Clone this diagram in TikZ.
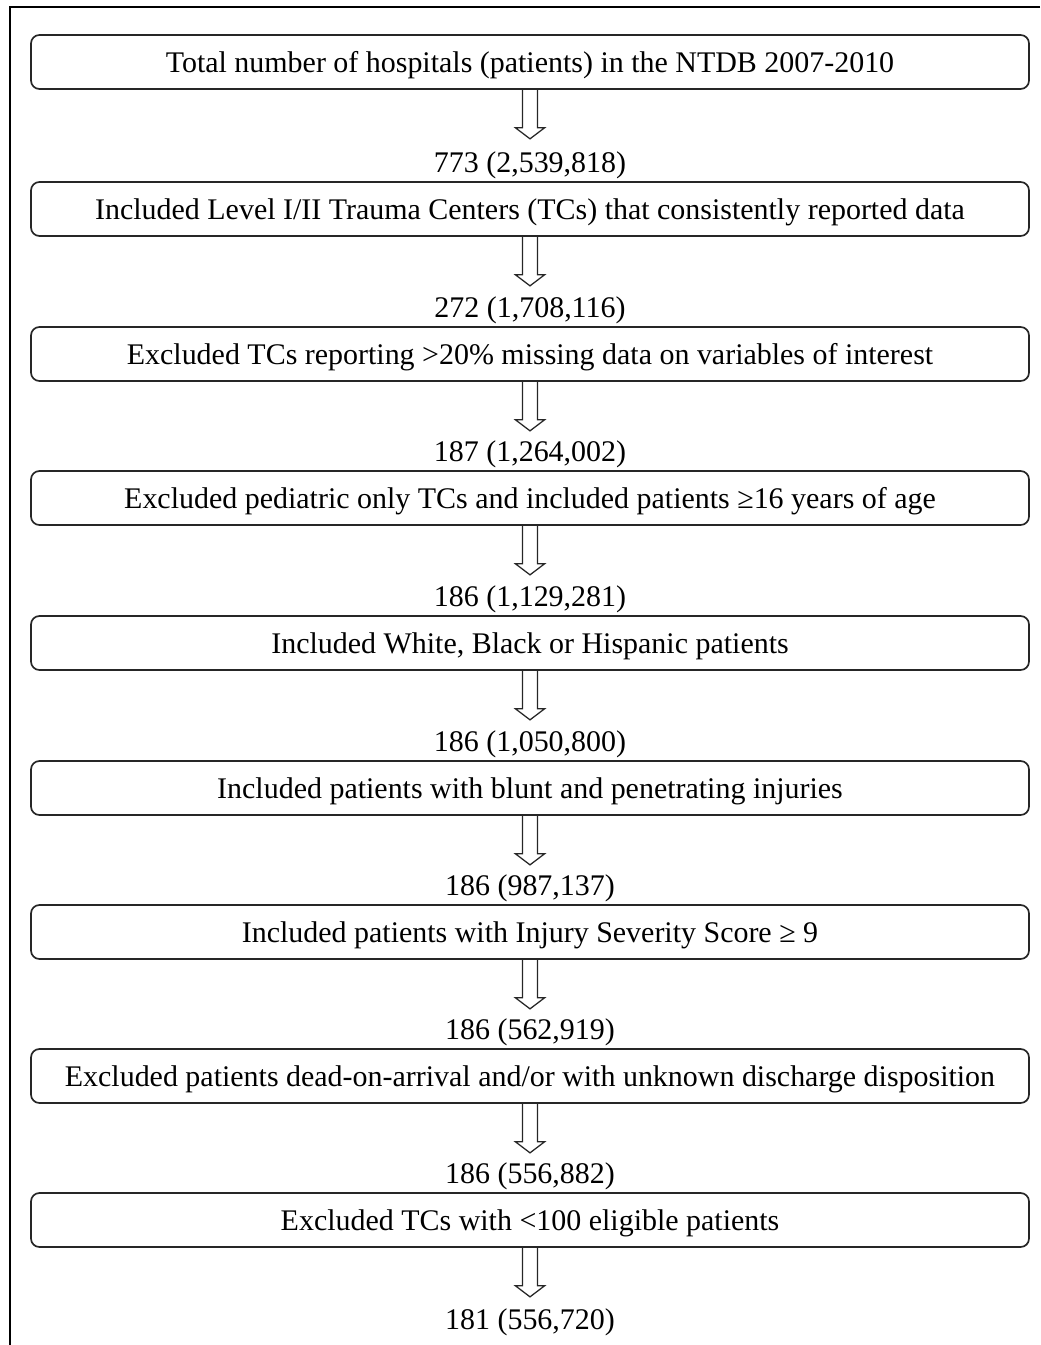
\documentclass[tikz,border=0pt]{standalone}
\usepackage{fontspec}
\setmainfont{Liberation Serif}
\usetikzlibrary{shapes,arrows,positioning,calc,arrows.meta}

\tikzset{
    flowarrow/.pic={
        \draw[draw=black!85, line width=0.9pt, line join=miter]
            (-7.5,0) -- (-7.5,38) -- (-14.5,38) -- (0,49) -- (14.5,38) -- (7.5,38) -- (7.5,0);
    }
}

\begin{document}
\begin{tikzpicture}[
    x=0.025cm, y=-0.025cm,
    stepbox/.style={rectangle, draw=black!85, line width=1.2pt, rounded corners=6pt,
        minimum width=998*0.025cm, minimum height=54*0.025cm, inner sep=0pt,
        text height=14.8pt, text depth=0pt,
        font=\fontsize{21.3}{25}\selectfont},
    count/.style={anchor=south, inner sep=1.5pt, font=\fontsize{21.3}{25}\selectfont}
]
    \useasboundingbox (0,0) rectangle (1040,1345);
    % frame (cut off at right and bottom)
    \draw[line width=1.3pt] (1040,7) -- (10,7) -- (10,1345);

    \node[stepbox] (b1) at (530,62) {Total number of hospitals (patients) in the NTDB 2007-2010};
    \pic at (b1.south) {flowarrow};

    \node[stepbox] (b2) at (530,209) {Included Level I/II Trauma Centers (TCs) that consistently reported data};
    \node[count] (c2) at (b2.north) {773 (2,539,818)};
    \pic at (b2.south) {flowarrow};

    \node[stepbox] (b3) at (530,354) {Excluded TCs reporting >20\% missing data on variables of interest};
    \node[count] (c3) at (b3.north) {272 (1,708,116)};
    \pic at (b3.south) {flowarrow};

    \node[stepbox] (b4) at (530,498) {Excluded pediatric only TCs and included patients ≥16 years of age};
    \node[count] (c4) at (b4.north) {187 (1,264,002)};
    \pic at (b4.south) {flowarrow};

    \node[stepbox] (b5) at (530,643) {Included White, Black or Hispanic patients};
    \node[count] (c5) at (b5.north) {186 (1,129,281)};
    \pic at (b5.south) {flowarrow};

    \node[stepbox] (b6) at (530,788) {Included patients with blunt and penetrating injuries};
    \node[count] (c6) at (b6.north) {186 (1,050,800)};
    \pic at (b6.south) {flowarrow};

    \node[stepbox] (b7) at (530,932) {Included patients with Injury Severity Score ≥ 9};
    \node[count] (c7) at (b7.north) {186 (987,137)};
    \pic at (b7.south) {flowarrow};

    \node[stepbox] (b8) at (530,1076) {Excluded patients dead-on-arrival and/or with unknown discharge disposition};
    \node[count] (c8) at (b8.north) {186 (562,919)};
    \pic at (b8.south) {flowarrow};

    \node[stepbox] (b9) at (530,1220) {Excluded TCs with <100 eligible patients};
    \node[count] (c9) at (b9.north) {186 (556,882)};
    \pic at (b9.south) {flowarrow};

    \node[count] (c10) at (530,1338) {181 (556,720)};
\end{tikzpicture}
\end{document}
